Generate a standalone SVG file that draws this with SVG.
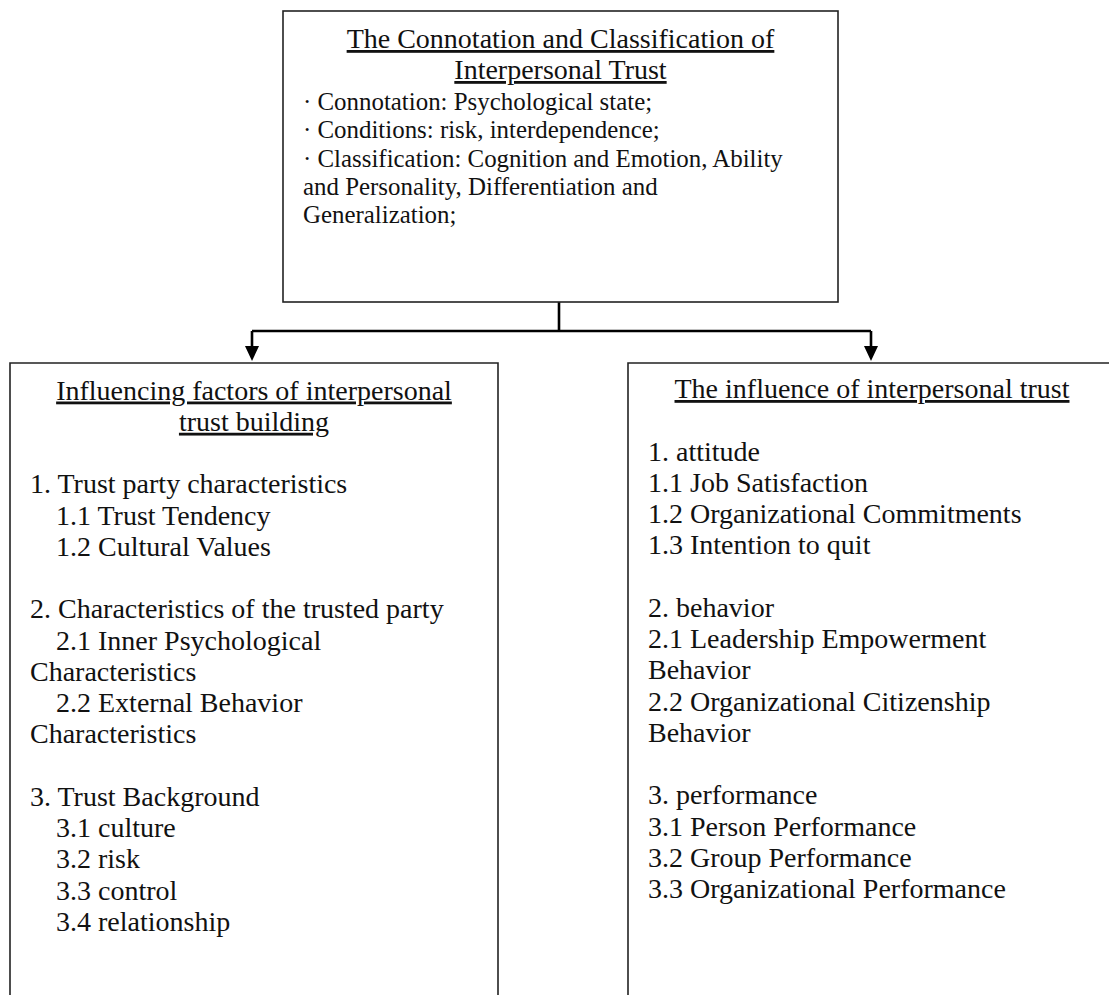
<svg xmlns="http://www.w3.org/2000/svg" width="1109" height="995" viewBox="0 0 1109 995">
<style>
  text { font-family: "Liberation Serif", "Times New Roman", serif; fill: #111; }
  .ttl { font-size: 28px; text-anchor: middle; text-decoration: underline; }
  .body { font-size: 28px; }
  .small { font-size: 24.9px; }
  .box { fill: none; stroke: #222; stroke-width: 1.6; }
  .conn { fill: none; stroke: #000; stroke-width: 2.6; }
  .head { fill: #000; stroke: none; }
</style>
<rect width="1109" height="995" fill="#fff"/>

<g id="connectors">
  <path class="conn" d="M559,302 V331"/>
  <path class="conn" d="M252,331 H871"/>
  <path class="conn" d="M252,331 V348"/>
  <path class="conn" d="M871,331 V348"/>
  <polygon class="head" points="245,346 259,346 252,361"/>
  <polygon class="head" points="864,346 878,346 871,361"/>
</g>

<g id="node-connotation">
  <rect class="box" x="283" y="11" width="555" height="291"/>
  <text class="ttl" x="560.5" y="48">The Connotation and Classification of</text>
  <text class="ttl" x="560.5" y="79">Interpersonal Trust</text>
  <text class="small" x="303" y="110">· Connotation: Psychological state;</text>
  <text class="small" x="303" y="138">· Conditions: risk, interdependence;</text>
  <text class="small" x="303" y="167">· Classification: Cognition and Emotion, Ability</text>
  <text class="small" x="303" y="195">and Personality, Differentiation and</text>
  <text class="small" x="303" y="223">Generalization;</text>
</g>

<g id="node-influencing-factors">
  <path class="box" d="M10,996 V363 H498 V996"/>
  <text class="ttl" x="254" y="399.5">Influencing factors of interpersonal</text>
  <text class="ttl" x="254" y="430.75">trust building</text>
  <text class="body" x="30" y="493.25">1. Trust party characteristics</text>
  <text class="body" x="56" y="524.5">1.1 Trust Tendency</text>
  <text class="body" x="56" y="555.75">1.2 Cultural Values</text>
  <text class="body" x="30" y="618.25">2. Characteristics of the trusted party</text>
  <text class="body" x="56" y="649.5">2.1 Inner Psychological</text>
  <text class="body" x="30" y="680.75">Characteristics</text>
  <text class="body" x="56" y="712">2.2 External Behavior</text>
  <text class="body" x="30" y="743.25">Characteristics</text>
  <text class="body" x="30" y="805.75">3. Trust Background</text>
  <text class="body" x="56" y="837">3.1 culture</text>
  <text class="body" x="56" y="868.25">3.2 risk</text>
  <text class="body" x="56" y="899.5">3.3 control</text>
  <text class="body" x="56" y="930.75">3.4 relationship</text>
</g>

<g id="node-influence">
  <path class="box" d="M628,996 V363 H1112"/>
  <text class="ttl" x="872" y="398">The influence of interpersonal trust</text>
  <text class="body" x="648" y="460.5">1. attitude</text>
  <text class="body" x="648" y="491.75">1.1 Job Satisfaction</text>
  <text class="body" x="648" y="523">1.2 Organizational Commitments</text>
  <text class="body" x="648" y="554.25">1.3 Intention to quit</text>
  <text class="body" x="648" y="616.75">2. behavior</text>
  <text class="body" x="648" y="648">2.1 Leadership Empowerment</text>
  <text class="body" x="648" y="679.25">Behavior</text>
  <text class="body" x="648" y="710.5">2.2 Organizational Citizenship</text>
  <text class="body" x="648" y="741.75">Behavior</text>
  <text class="body" x="648" y="804.25">3. performance</text>
  <text class="body" x="648" y="835.5">3.1 Person Performance</text>
  <text class="body" x="648" y="866.75">3.2 Group Performance</text>
  <text class="body" x="648" y="898">3.3 Organizational Performance</text>
</g>
</svg>
